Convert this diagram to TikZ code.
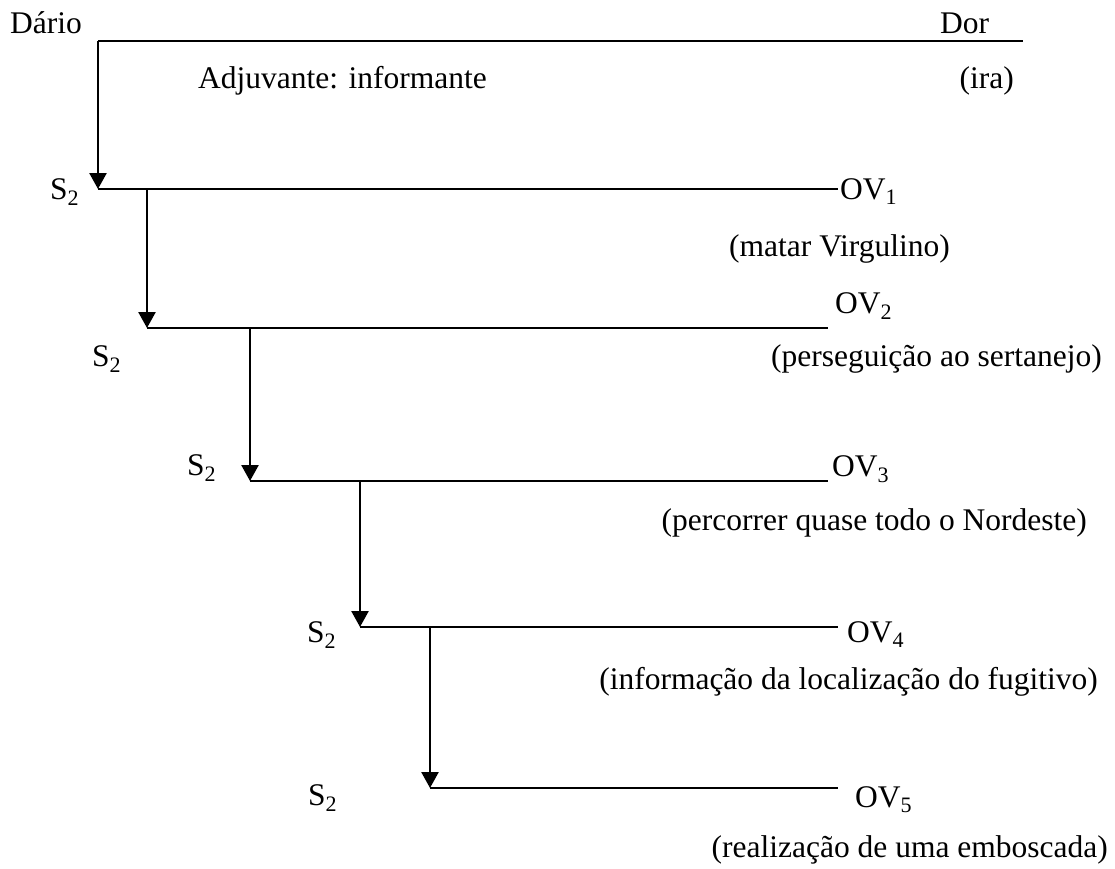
\documentclass[tikz,border=0pt]{standalone}
\usepackage{fontspec}
\setmainfont{Liberation Serif}
\usetikzlibrary{arrows.meta}
\begin{document}
\begin{tikzpicture}[x=1pt,y=-1pt,
  lbl/.style={inner sep=0pt,font=\fontsize{31.5}{36}\selectfont},
  rule/.style={line width=2.5pt},
  flow/.style={line width=2.5pt,-{Triangle[width=17pt,length=16pt]}}]
\useasboundingbox (0,0) rectangle (1115,868);

% headings
\node[lbl,anchor=base west] (dario) at (10,33) {Dário};
\node[lbl,anchor=base west] (dor) at (940,33) {Dor};
\node[lbl,anchor=base west] (adj) at (198,88) {Adjuvante: informante};
\node[lbl,anchor=base east] (ira) at (1014,88) {(ira)};

% subjects
\node[lbl,anchor=base west] (s1) at (50,199) {S\textsubscript{2}};
\node[lbl,anchor=base west] (s2) at (92,366) {S\textsubscript{2}};
\node[lbl,anchor=base west] (s3) at (187,475) {S\textsubscript{2}};
\node[lbl,anchor=base west] (s4) at (307,642) {S\textsubscript{2}};
\node[lbl,anchor=base west] (s5) at (308,805) {S\textsubscript{2}};

% objects of value
\node[lbl,anchor=base west] (ov1) at (840,199) {OV\textsubscript{1}};
\node[lbl,anchor=base west] (ov2) at (835,313) {OV\textsubscript{2}};
\node[lbl,anchor=base west] (ov3) at (832,476) {OV\textsubscript{3}};
\node[lbl,anchor=base west] (ov4) at (847,642) {OV\textsubscript{4}};
\node[lbl,anchor=base west] (ov5) at (855,807) {OV\textsubscript{5}};

% glosses
\node[lbl,anchor=base east] (g1) at (950,256) {(matar Virgulino)};
\node[lbl,anchor=base east] (g2) at (1102,366) {(perseguição ao sertanejo)};
\node[lbl,anchor=base east] (g3) at (1087,530) {(percorrer quase todo o Nordeste)};
\node[lbl,anchor=base east] (g4) at (1098,689) {(informação da localização do fugitivo)};
\node[lbl,anchor=base east] (g5) at (1108,857) {(realização de uma emboscada)};

% junction points
\coordinate (t0) at (98,41);   \coordinate (t1) at (1023,41);
\coordinate (a1) at (98,189);  \coordinate (e1) at (838,189);
\coordinate (b1) at (147,189); \coordinate (a2) at (147,328); \coordinate (e2) at (828,328);
\coordinate (b2) at (250,328); \coordinate (a3) at (250,481); \coordinate (e3) at (828,481);
\coordinate (b3) at (360,481); \coordinate (a4) at (360,627); \coordinate (e4) at (838,627);
\coordinate (b4) at (430,627); \coordinate (a5) at (430,788); \coordinate (e5) at (838,788);

% horizontal axes
\draw[rule] (t0) -- (t1);
\draw[rule] (a1) -- (e1);
\draw[rule] (a2) -- (e2);
\draw[rule] (a3) -- (e3);
\draw[rule] (a4) -- (e4);
\draw[rule] (a5) -- (e5);

% descending arrows
\draw[flow] (t0) -- (a1);
\draw[flow] (b1) -- (a2);
\draw[flow] (b2) -- (a3);
\draw[flow] (b3) -- (a4);
\draw[flow] (b4) -- (a5);
\end{tikzpicture}
\end{document}
